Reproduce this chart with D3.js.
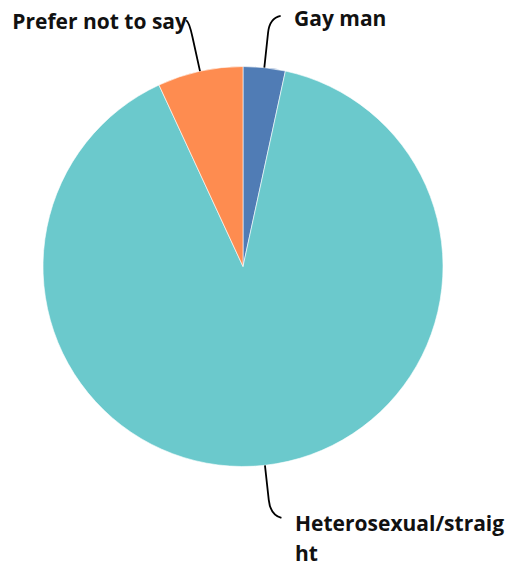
<!DOCTYPE html>
<html>
<head>
<meta charset="utf-8">
<script src="https://cdn.jsdelivr.net/npm/d3@7"></script>
<style>
  html, body { margin: 0; padding: 0; background: #fff; }
  svg { display: block; }
  text { font-family: "Open Sans", sans-serif; font-weight: 700; fill: #111; }
</style>
</head>
<body>
<svg id="chart" width="509" height="567"></svg>
<script>
const categories = ["Gay man", "Heterosexual/straight", "Prefer not to say"];
const values = [3.4, 89.7, 6.9];
const colors = ["#507cb5", "#6bc9cc", "#fe8c50"];
const labelLines = [["Gay man"], ["Heterosexual/straig", "ht"], ["Prefer not to say"]];

const W = 509, H = 567;
const cx = 243, cy = 266.5, R = 200;

const svg = d3.select("#chart");
const g = svg.append("g").attr("transform", `translate(${cx},${cy})`);

const data = categories.map((c, i) => ({ name: c, value: values[i], color: colors[i], lines: labelLines[i] }));
const pie = d3.pie().sort(null).value(d => d.value);
const arcs = pie(data);
const arc = d3.arc().innerRadius(0).outerRadius(R);

g.selectAll("path.slice").data(arcs).join("path")
  .attr("class", "slice")
  .attr("d", arc)
  .attr("fill", d => d.data.color)
  .attr("stroke", "#fff")
  .attr("stroke-width", 0.6);

function pt(a, r) { return [r * Math.sin(a), -r * Math.cos(a)]; }

const labelPos = [
  { x: 294, y: 26, anchor: "start" },
  { x: 295, y: 531, anchor: "start" },
  { x: 187, y: 29, anchor: "end" }
];

arcs.forEach((d, i) => {
  const a = (d.startAngle + d.endAngle) / 2;
  const p0 = pt(a, R);
  const p1 = pt(a, R + 35);
  const c = pt(a, R + 50);
  const side = labelPos[i].anchor === "start" ? 1 : -1;
  const endDx = i === 2 ? 3 : 11;
  const p2 = [c[0] + side * endDx, c[1] + (i === 1 ? 3 : -2)];
  const path = d3.path();
  path.moveTo(p0[0], p0[1]);
  path.lineTo(p1[0], p1[1]);
  path.quadraticCurveTo(c[0], c[1], p2[0], p2[1]);
  g.append("path").attr("d", path.toString())
    .attr("fill", "none").attr("stroke", "#000").attr("stroke-width", 1.8);
});

data.forEach((d, i) => {
  const lp = labelPos[i];
  const t = svg.append("text")
    .attr("x", lp.x).attr("y", lp.y)
    .attr("text-anchor", lp.anchor)
    .attr("font-size", 21);
  d.lines.forEach((ln, j) => {
    t.append("tspan").attr("x", lp.x).attr("dy", j === 0 ? 0 : 30).text(ln);
  });
});
</script>
</body>
</html>
